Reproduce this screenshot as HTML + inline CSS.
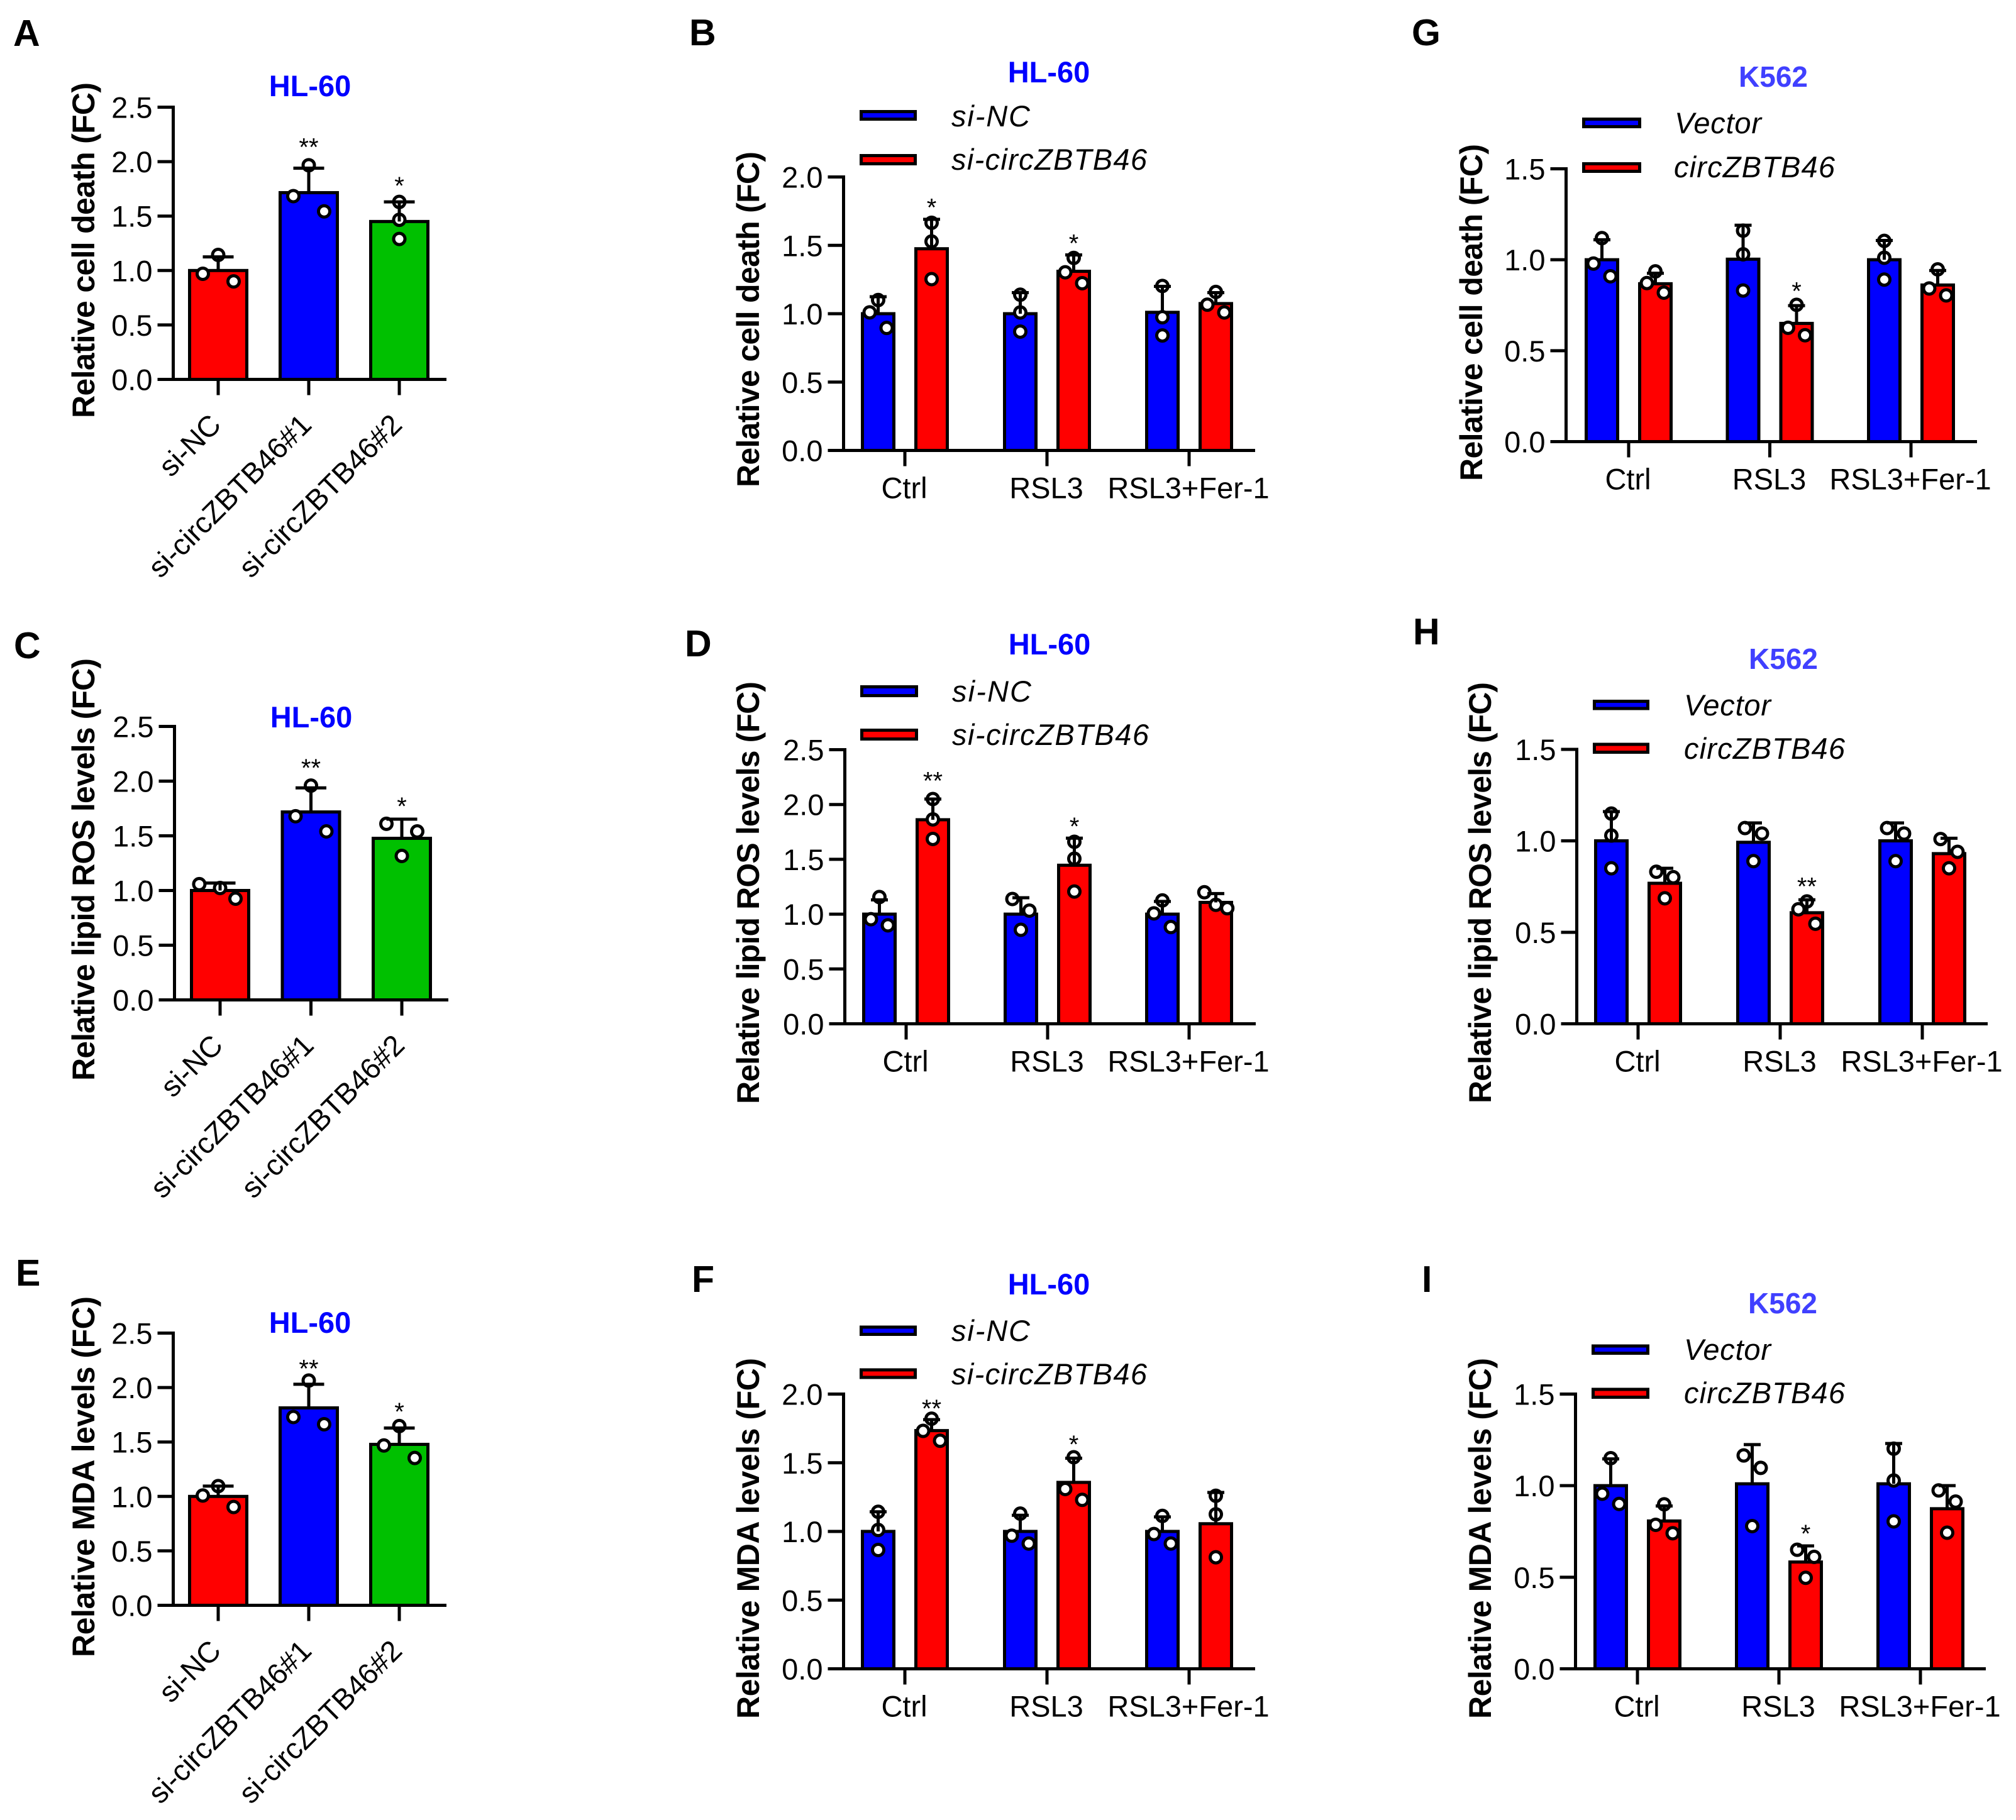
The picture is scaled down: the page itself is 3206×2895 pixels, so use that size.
<!DOCTYPE html>
<html lang="en">
<head>
<meta charset="utf-8">
<title>Relative cell death, lipid ROS and MDA levels</title>
<style>
html,body{margin:0;padding:0;background:#fff;width:3206px;height:2895px;overflow:hidden}
svg{display:block}
text{font-family:"Liberation Sans",Arial,sans-serif;fill:#000}
.letter{font-weight:700;font-size:59px}
.ytitle{font-weight:700;font-size:50px;text-anchor:middle}
.hl{font-weight:700;font-size:47px;text-anchor:middle;fill:#0000ff}
.k{font-weight:700;font-size:46px;text-anchor:middle;fill:#4040ff}
.leg{font-style:italic;font-size:47px}
.sw{stroke:#000;stroke-width:5}
</style>
</head>
<body>
<svg id="figure" xmlns="http://www.w3.org/2000/svg" width="3206" height="2895" viewBox="0 0 3206 2895">
<rect x="0" y="0" width="3206" height="2895" fill="#fff"/>

<g id="panel-a">
<text class="letter" x="21" y="73">A</text>
<text class="hl" x="493" y="153">HL-60</text>
<text class="ytitle" x="150" y="398" textLength="534" transform="rotate(-90 150 398)">Relative cell death (FC)</text>
</g>

<g id="panel-b">
<text class="letter" x="1096" y="72">B</text>
<text class="hl" x="1668" y="131">HL-60</text>
<text class="ytitle" x="1207" y="508" textLength="534" transform="rotate(-90 1207 508)">Relative cell death (FC)</text>
<rect class="sw" x="1369.5" y="177.5" width="86" height="12" fill="#0000ff"/>
<text class="leg" x="1513" y="201" textLength="125">si-NC</text>
<rect class="sw" x="1369.5" y="247.5" width="86" height="13" fill="#ff0000"/>
<text class="leg" x="1513" y="270" textLength="311">si-circZBTB46</text>
</g>

<g id="panel-g">
<text class="letter" x="2245" y="72">G</text>
<text class="k" x="2820" y="138">K562</text>
<text class="ytitle" x="2357" y="497" textLength="536" transform="rotate(-90 2357 497)">Relative cell death (FC)</text>
<rect class="sw" x="2518.5" y="189.5" width="89" height="12" fill="#0000ff"/>
<text class="leg" x="2663" y="212" textLength="138">Vector</text>
<rect class="sw" x="2518.5" y="260.5" width="89" height="12" fill="#ff0000"/>
<text class="leg" x="2662" y="282" textLength="256">circZBTB46</text>
</g>

<g id="panel-c">
<text class="letter" x="22" y="1047">C</text>
<text class="hl" x="495" y="1157">HL-60</text>
<text class="ytitle" x="150" y="1383" textLength="672" transform="rotate(-90 150 1383)">Relative lipid ROS levels (FC)</text>
</g>

<g id="panel-d">
<text class="letter" x="1089" y="1044">D</text>
<text class="hl" x="1669" y="1041">HL-60</text>
<text class="ytitle" x="1207" y="1420" textLength="672" transform="rotate(-90 1207 1420)">Relative lipid ROS levels (FC)</text>
<rect class="sw" x="1370.5" y="1092.5" width="87" height="14" fill="#0000ff"/>
<text class="leg" x="1514" y="1116" textLength="126">si-NC</text>
<rect class="sw" x="1370.5" y="1161.5" width="87" height="14" fill="#ff0000"/>
<text class="leg" x="1514" y="1185" textLength="313">si-circZBTB46</text>
</g>

<g id="panel-h">
<text class="letter" x="2247" y="1025">H</text>
<text class="k" x="2836" y="1064">K562</text>
<text class="ytitle" x="2371" y="1420" textLength="670" transform="rotate(-90 2371 1420)">Relative lipid ROS levels (FC)</text>
<rect class="sw" x="2535.5" y="1115.5" width="85" height="11.5" fill="#0000ff"/>
<text class="leg" x="2678" y="1138" textLength="138">Vector</text>
<rect class="sw" x="2535.5" y="1184" width="85" height="12.5" fill="#ff0000"/>
<text class="leg" x="2678" y="1207" textLength="256">circZBTB46</text>
</g>

<g id="panel-e">
<text class="letter" x="25" y="2045">E</text>
<text class="hl" x="493" y="2120">HL-60</text>
<text class="ytitle" x="150" y="2349" textLength="574" transform="rotate(-90 150 2349)">Relative MDA levels (FC)</text>
</g>

<g id="panel-f">
<text class="letter" x="1100" y="2055">F</text>
<text class="hl" x="1668" y="2059">HL-60</text>
<text class="ytitle" x="1207" y="2447" textLength="574" transform="rotate(-90 1207 2447)">Relative MDA levels (FC)</text>
<rect class="sw" x="1369.5" y="2111" width="86" height="11.5" fill="#0000ff"/>
<text class="leg" x="1513" y="2133" textLength="125">si-NC</text>
<rect class="sw" x="1369.5" y="2179" width="86" height="12" fill="#ff0000"/>
<text class="leg" x="1513" y="2202" textLength="311">si-circZBTB46</text>
</g>

<g id="panel-i">
<text class="letter" x="2261" y="2055">I</text>
<text class="k" x="2835" y="2089">K562</text>
<text class="ytitle" x="2371" y="2447" textLength="574" transform="rotate(-90 2371 2447)">Relative MDA levels (FC)</text>
<rect class="sw" x="2533.5" y="2141" width="87" height="11.5" fill="#0000ff"/>
<text class="leg" x="2678" y="2163" textLength="138">Vector</text>
<rect class="sw" x="2533.5" y="2210" width="87" height="12.5" fill="#ff0000"/>
<text class="leg" x="2678" y="2232" textLength="256">circZBTB46</text>
</g>
</svg>

<script>
/* ---------- shared categories and tick labels ---------- */
const knockdownCategories = ['si-NC', 'si-circZBTB46#1', 'si-circZBTB46#2'];
const treatmentCategories = ['Ctrl', 'RSL3', 'RSL3+Fer-1'];
const ticksTo25 = ['0.0', '0.5', '1.0', '1.5', '2.0', '2.5'];
const ticksTo20 = ['0.0', '0.5', '1.0', '1.5', '2.0'];
const ticksTo15 = ['0.0', '0.5', '1.0', '1.5'];

/* ---------- panel A ---------- */
const panelAValues = [1.0, 1.715, 1.45];
const panelAErrorTops = [1.125, 1.94, 1.63];
const panelAPoints = [[1.143, 0.97, 0.9], [1.967, 1.683, 1.543], [1.63, 1.466, 1.29]];
const panelAJitter = ['CLR', 'CLR', 'CCC'];
const panelAStars = ['', '**', '*'];
const panelAStarValues = [0, 2.188, 1.834];

/* ---------- panel B ---------- */
const panelBValues = [1.0, 1.475, 1.0, 1.31, 1.01, 1.074];
const panelBErrorTops = [1.124, 1.69, 1.154, 1.43, 1.2, 1.154];
const panelBPoints = [[1.1, 1.01, 0.896], [1.665, 1.528, 1.253], [1.139, 1.009, 0.869], [1.408, 1.303, 1.223], [1.203, 0.974, 0.841], [1.159, 1.066, 1.009]];
const panelBJitter = ['CLR', 'CCC', 'CCC', 'CLR', 'CCC', 'CLR'];
const panelBStars = ['', '*', '', '*', '', ''];
const panelBStarValues = [0, 1.82, 0, 1.558, 0, 0];

/* ---------- panel G ---------- */
const panelGValues = [1.0, 0.868, 1.003, 0.65, 1.0, 0.861];
const panelGErrorTops = [1.11, 0.926, 1.19, 0.748, 1.106, 0.941];
const panelGPoints = [[1.119, 0.979, 0.909], [0.936, 0.872, 0.819], [1.16, 1.03, 0.831], [0.752, 0.626, 0.585], [1.104, 1.011, 0.891], [0.947, 0.842, 0.804]];
const panelGJitter = ['CLR', 'CLR', 'CCC', 'CLR', 'CCC', 'CLR'];
const panelGStars = ['', '', '', '*', '', ''];
const panelGStarValues = [0, 0, 0, 0.861, 0, 0];

/* ---------- panel C ---------- */
const panelCValues = [1.0, 1.718, 1.477];
const panelCErrorTops = [1.068, 1.938, 1.652];
const panelCPoints = [[1.023, 1.058, 0.925], [1.959, 1.679, 1.54], [1.61, 1.54, 1.316]];
const panelCJitter = ['ClR', 'CLR', 'LRC'];
const panelCStars = ['', '**', '*'];
const panelCStarValues = [0, 2.175, 1.826];

/* ---------- panel D ---------- */
const panelDValues = [1.0, 1.861, 1.0, 1.446, 1.0, 1.107];
const panelDErrorTops = [1.13, 2.05, 1.15, 1.693, 1.116, 1.188];
const panelDPoints = [[1.156, 0.954, 0.898], [2.05, 1.864, 1.686], [1.138, 1.032, 0.857], [1.66, 1.506, 1.206], [1.125, 1.007, 0.882], [1.2, 1.085, 1.054]];
const panelDJitter = ['CLR', 'CCC', 'LRC', 'CCC', 'CLR', 'lCr'];
const panelDStars = ['', '**', '', '*', '', ''];
const panelDStarValues = [0, 2.27, 0, 1.855, 0, 0];

/* ---------- panel H ---------- */
const panelHValues = [1.0, 0.768, 0.992, 0.607, 1.0, 0.93];
const panelHErrorTops = [1.16, 0.85, 1.098, 0.678, 1.098, 1.014];
const panelHPoints = [[1.149, 1.029, 0.85], [0.831, 0.801, 0.686], [1.07, 1.04, 0.889], [0.669, 0.626, 0.547], [1.07, 1.04, 0.889], [1.01, 0.94, 0.85]];
const panelHJitter = ['CCC', 'LRC', 'LRC', 'CLR', 'LRC', 'LRC'];
const panelHStars = ['', '', '', '**', '', ''];
const panelHStarValues = [0, 0, 0, 0.783, 0, 0];

/* ---------- panel E ---------- */
const panelEValues = [1.0, 1.813, 1.478];
const panelEErrorTops = [1.095, 2.03, 1.628];
const panelEPoints = [[1.095, 1.008, 0.903], [2.064, 1.729, 1.663], [1.646, 1.468, 1.353]];
const panelEJitter = ['CLR', 'CLR', 'CLR'];
const panelEStars = ['', '**', '*'];
const panelEStarValues = [0, 2.23, 1.834];

/* ---------- panel F ---------- */
const panelFValues = [1.0, 1.734, 1.0, 1.357, 1.0, 1.056];
const panelFErrorTops = [1.143, 1.814, 1.118, 1.533, 1.106, 1.284];
const panelFPoints = [[1.143, 1.011, 0.865], [1.821, 1.732, 1.66], [1.13, 0.969, 0.912], [1.54, 1.309, 1.23], [1.113, 0.981, 0.912], [1.26, 1.125, 0.812]];
const panelFJitter = ['CCC', 'CLR', 'CLR', 'CLR', 'CLR', 'CCC'];
const panelFStars = ['', '**', '', '*', '', ''];
const panelFStarValues = [0, 1.938, 0, 1.677, 0, 0];

/* ---------- panel I ---------- */
const panelIValues = [1.0, 0.807, 1.01, 0.583, 1.01, 0.874];
const panelIErrorTops = [1.146, 0.889, 1.224, 0.671, 1.23, 1.0];
const panelIPoints = [[1.15, 0.956, 0.9], [0.898, 0.786, 0.74], [1.165, 1.097, 0.779], [0.65, 0.611, 0.497], [1.202, 1.028, 0.805], [0.974, 0.913, 0.743]];
const panelIJitter = ['CLR', 'CLR', 'LRC', 'LRC', 'CCC', 'LRC'];
const panelIStars = ['', '', '', '*', '', ''];
const panelIStarValues = [0, 0, 0, 0.77, 0, 0];

/* ---------- rendering ---------- */
const SVG_NS = 'http://www.w3.org/2000/svg';

function mk(parent, tag, attrs, text) {
  const node = document.createElementNS(SVG_NS, tag);
  Object.keys(attrs).forEach(function (k) { node.setAttribute(k, attrs[k]); });
  if (text !== undefined) node.textContent = text;
  parent.appendChild(node);
  return node;
}

function drawPanel(cfg) {
  const root = document.getElementById(cfg.id);
  const yMax = parseFloat(cfg.ticks[cfg.ticks.length - 1]);
  const yScale = function (v) { return cfg.y0 - (v / yMax) * (cfg.y0 - cfg.yTop); };
  const tickX = function (i) { return cfg.tick0 + i * cfg.tickStep; };
  const grouped = cfg.values.length > cfg.categories.length;
  const barX = function (i) {
    if (!grouped) return tickX(i);
    return tickX(Math.floor(i / 2)) + (i % 2 === 0 ? -42.5 : 42.5);
  };
  const barWidth = grouped ? 50 : 91;
  const spread = grouped ? 13.5 : 24.5;
  const colors = grouped ? ['#0000ff', '#ff0000'] : ['#ff0000', '#0000ff', '#00c000'];
  const jitterFactor = { C: 0, L: -1, R: 1, l: -1.35, r: 1.35 };

  cfg.values.forEach(function (v, i) {
    const cx = barX(i);
    const top = yScale(v);
    const bar = mk(root, 'rect', { x: cx - barWidth / 2, y: top, width: barWidth, height: cfg.y0 - top, fill: colors[i % colors.length], stroke: '#000', 'stroke-width': 5 });
    
    
  });

  cfg.values.forEach(function (v, i) {
    const cx = barX(i);
    cfg.points[i].forEach(function (p, j) {
      const dot = mk(root, 'circle', { cx: cx + jitterFactor[cfg.jitter[i][j]] * spread, cy: yScale(p), r: 9, fill: '#fff', stroke: '#000', 'stroke-width': 5 });
      
      
    });
  });

  cfg.values.forEach(function (v, i) {
    const cx = barX(i);
    const stem = mk(root, 'line', { x1: cx, x2: cx, y1: yScale(v), y2: yScale(cfg.errorTops[i]), stroke: '#000', 'stroke-width': 5 });
    
    
    const cap = mk(root, 'line', { x1: cx - spread, x2: cx + spread, y1: yScale(cfg.errorTops[i]), y2: yScale(cfg.errorTops[i]), stroke: '#000', 'stroke-width': 5 });
    
    
    if (cfg.stars[i]) {
      const star = mk(root, 'text', { x: cx, y: yScale(cfg.starValues[i]) + 23, 'font-size': 40, 'text-anchor': 'middle' }, cfg.stars[i]);
      
      
    }
  });

  const yAxis = mk(root, 'line', { x1: cfg.x0, x2: cfg.x0, y1: cfg.yTop - 2.5, y2: cfg.y0 + 2.5, stroke: '#000', 'stroke-width': 5 });
  
  
  const xAxis = mk(root, 'line', { x1: cfg.x0 - 25, x2: cfg.xEnd, y1: cfg.y0, y2: cfg.y0, stroke: '#000', 'stroke-width': 5 });
  
  

  cfg.ticks.forEach(function (label) {
    const y = yScale(parseFloat(label));
    const mark = mk(root, 'line', { x1: cfg.x0 - 25, x2: cfg.x0, y1: y, y2: y, stroke: '#000', 'stroke-width': 5 });
    
    
    const txt = mk(root, 'text', { x: cfg.x0 - 33, y: y + 17, 'font-size': 47, 'text-anchor': 'end' }, label);
    
    
  });

  cfg.categories.forEach(function (label, i) {
    const x = tickX(i);
    const mark = mk(root, 'line', { x1: x, x2: x, y1: cfg.y0, y2: cfg.y0 + 25, stroke: '#000', 'stroke-width': 5 });
    
    
    let txt;
    if (grouped) {
      txt = mk(root, 'text', { x: x - 1, y: cfg.y0 + 76, 'font-size': 47, 'text-anchor': 'middle' }, label);
    } else {
      const ax = x + 7;
      const ay = cfg.y0 + 75;
      txt = mk(root, 'text', { x: ax, y: ay, 'font-size': 46.5, 'text-anchor': 'end', transform: 'rotate(-45 ' + ax + ' ' + ay + ')' }, label);
    }
    
    
  });
}

drawPanel({ id: 'panel-a', x0: 275.5, y0: 603.5, yTop: 170.5, xEnd: 710, tick0: 347, tickStep: 144, ticks: ticksTo25, categories: knockdownCategories, values: panelAValues, errorTops: panelAErrorTops, points: panelAPoints, jitter: panelAJitter, stars: panelAStars, starValues: panelAStarValues });
drawPanel({ id: 'panel-b', x0: 1341.5, y0: 716.5, yTop: 281.5, xEnd: 1996, tick0: 1439, tickStep: 226, ticks: ticksTo20, categories: treatmentCategories, values: panelBValues, errorTops: panelBErrorTops, points: panelBPoints, jitter: panelBJitter, stars: panelBStars, starValues: panelBStarValues });
drawPanel({ id: 'panel-g', x0: 2490.5, y0: 702.5, yTop: 268.5, xEnd: 3144, tick0: 2590, tickStep: 224.5, ticks: ticksTo15, categories: treatmentCategories, values: panelGValues, errorTops: panelGErrorTops, points: panelGPoints, jitter: panelGJitter, stars: panelGStars, starValues: panelGStarValues });
drawPanel({ id: 'panel-c', x0: 277.5, y0: 1590.5, yTop: 1155.5, xEnd: 713, tick0: 350, tickStep: 144.5, ticks: ticksTo25, categories: knockdownCategories, values: panelCValues, errorTops: panelCErrorTops, points: panelCPoints, jitter: panelCJitter, stars: panelCStars, starValues: panelCStarValues });
drawPanel({ id: 'panel-d', x0: 1343.5, y0: 1628.5, yTop: 1192.5, xEnd: 1997, tick0: 1441, tickStep: 225, ticks: ticksTo25, categories: treatmentCategories, values: panelDValues, errorTops: panelDErrorTops, points: panelDPoints, jitter: panelDJitter, stars: panelDStars, starValues: panelDStarValues });
drawPanel({ id: 'panel-h', x0: 2507.5, y0: 1628.5, yTop: 1192, xEnd: 3161, tick0: 2605, tickStep: 226, ticks: ticksTo15, categories: treatmentCategories, values: panelHValues, errorTops: panelHErrorTops, points: panelHPoints, jitter: panelHJitter, stars: panelHStars, starValues: panelHStarValues });
drawPanel({ id: 'panel-e', x0: 275.5, y0: 2553.5, yTop: 2120.5, xEnd: 710, tick0: 347, tickStep: 144, ticks: ticksTo25, categories: knockdownCategories, values: panelEValues, errorTops: panelEErrorTops, points: panelEPoints, jitter: panelEJitter, stars: panelEStars, starValues: panelEStarValues });
drawPanel({ id: 'panel-f', x0: 1341.5, y0: 2654.5, yTop: 2217.5, xEnd: 1996, tick0: 1439, tickStep: 226, ticks: ticksTo20, categories: treatmentCategories, values: panelFValues, errorTops: panelFErrorTops, points: panelFPoints, jitter: panelFJitter, stars: panelFStars, starValues: panelFStarValues });
drawPanel({ id: 'panel-i', x0: 2505.5, y0: 2654.5, yTop: 2217.5, xEnd: 3158, tick0: 2604, tickStep: 225, ticks: ticksTo15, categories: treatmentCategories, values: panelIValues, errorTops: panelIErrorTops, points: panelIPoints, jitter: panelIJitter, stars: panelIStars, starValues: panelIStarValues });
</script>
</body>
</html>
